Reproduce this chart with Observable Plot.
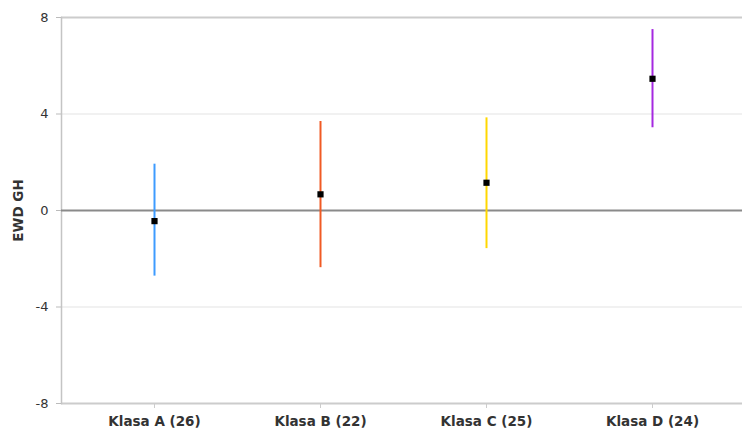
<!DOCTYPE html>
<html><head><meta charset="utf-8">
<script src="https://cdn.jsdelivr.net/npm/d3@7"></script>
<script src="https://cdn.jsdelivr.net/npm/@observablehq/plot@0.6"></script>
<style>body{margin:0;background:#fff}</style>
</head><body><div id="chart"></div>
<script>
const categories = ["Klasa A (26)", "Klasa B (22)", "Klasa C (25)", "Klasa D (24)"];
const means = [-0.44, 0.67, 1.15, 5.46];
const lows = [-2.72, -2.37, -1.58, 3.43];
const highs = [1.92, 3.69, 3.84, 7.5];
const colors = ["#3d9bff", "#f05a24", "#ffd700", "#a529e0"];
const yTicks = [-8, -4, 0, 4, 8];
const yLabel = "EWD GH";

const data = categories.map((c, i) => ({cat: c, mean: means[i], lo: lows[i], hi: highs[i], color: colors[i]}));

const chart = Plot.plot({
  width: 742, height: 432,
  marginTop: 17, marginBottom: 29, marginLeft: 61, marginRight: 0,
  style: {fontFamily: "DejaVu Sans, Verdana, sans-serif", background: "#fff"},
  x: {type: "band", domain: categories, padding: 0, insetLeft: 8.7, insetRight: 5.3},
  y: {domain: [-8, 8], ticks: yTicks},
  marks: [
    Plot.ruleY([-4, 4], {stroke: "#e3e3e3", strokeWidth: 1}),
    Plot.ruleY([-8, 8], {stroke: "#cccccc", strokeWidth: 2}),
    Plot.frame({anchor: "left", stroke: "#c4c4c4", strokeWidth: 1.5}),
    Plot.ruleY([0], {stroke: "#8a8a8a", strokeWidth: 2}),
    Plot.ruleX(data, {x: "cat", y1: "lo", y2: "hi", stroke: "color", strokeWidth: 2}),
    Plot.dot(data, {x: "cat", y: "mean", symbol: "square", r: 3.5, fill: "#000", stroke: "none"}),
    Plot.axisY({ticks: yTicks, tickFormat: d => String(d), tickSize: 5, tickPadding: 8, stroke: "#bbb", fill: "#333", fontSize: 13, label: null}),
    Plot.axisY({ticks: [], label: yLabel, labelArrow: "none", labelAnchor: "center", labelOffset: 48, fontWeight: "bold", fontSize: 13.5, fill: "#333"}),
    Plot.axisX({tickSize: 5, tickPadding: 8, stroke: "#ccc", fill: "#333", fontSize: 13.5, fontWeight: "bold", label: null})
  ]
});
document.getElementById("chart").appendChild(chart);
</script>
</body></html>
